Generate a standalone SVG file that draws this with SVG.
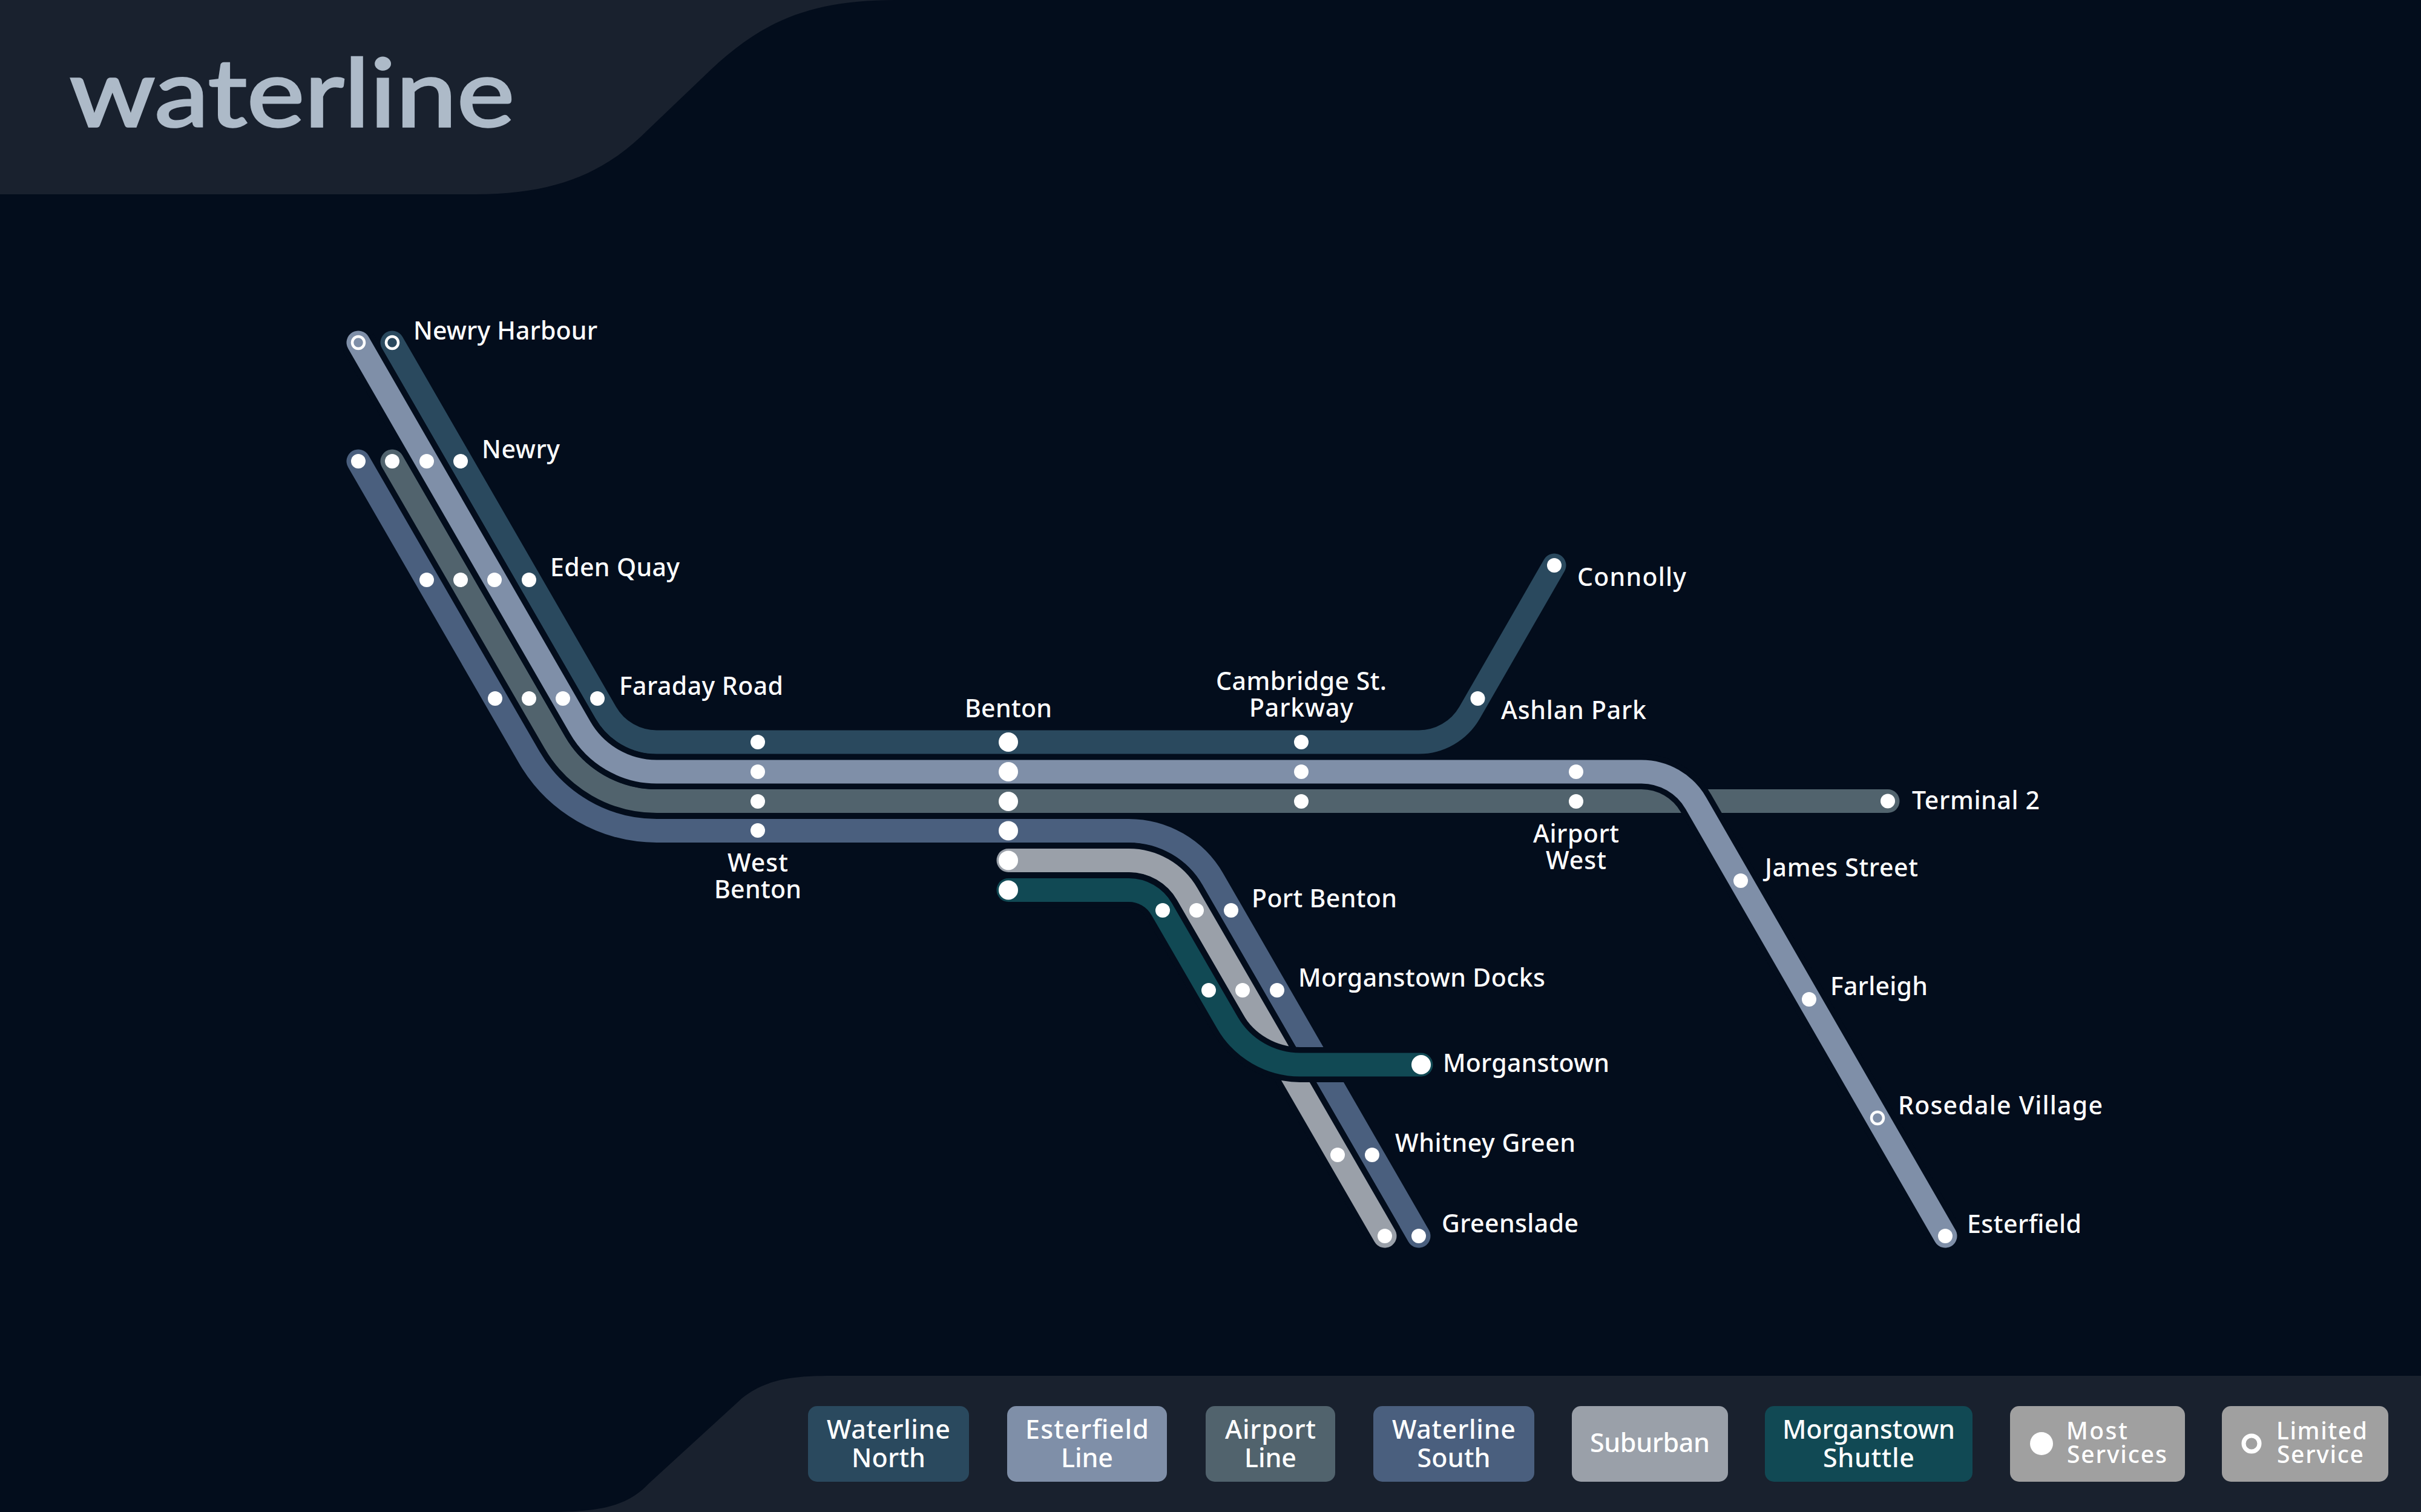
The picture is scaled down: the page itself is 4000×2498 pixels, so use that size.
<svg xmlns="http://www.w3.org/2000/svg" width="4000" height="2498" viewBox="0 0 4000 2498">
<style>
.line{fill:none;stroke-width:39;stroke-linecap:round;stroke-linejoin:round}
.case{fill:none;stroke:#030d1c;stroke-width:58}
.d{fill:#fff}
.r{fill:none;stroke:#fff;stroke-width:4.5}
text{font-family:"Noto Sans","Open Sans",sans-serif;fill:#fff;font-weight:500}
.l{font-size:41px}
.m{text-anchor:middle}
.k{font-size:43px;text-anchor:middle}
.s{font-size:39px}
.panel{fill:#19212e}
</style>
<defs>
<path id="p-north" d="M648 566L1001 1177.5A97 97 0 0 0 1085 1226H2344A97 97 0 0 0 2428 1177.5L2568 934"/>
<path id="p-airport" d="M648 762L916.5 1226.3A194.6 194.6 0 0 0 1085 1323.6H3119"/>
<path id="p-esterfield" d="M592 566L958.6 1202A146 146 0 0 0 1085 1275H2712A104 104 0 0 1 2802 1327L3214 2042"/>
<path id="p-south" d="M592 762L874.2 1250.7A243.4 243.4 0 0 0 1085 1372.4H1865A160.6 160.6 0 0 1 2004 1452.7L2344 2042"/>
<path id="p-suburban" d="M1666 1421.4H1865A111.6 111.6 0 0 1 1961.6 1477.2L2288 2042"/>
<path id="p-shuttle" d="M1666 1470.4H1865A62.6 62.6 0 0 1 1919.2 1501.7L2028 1689.7A139 139 0 0 0 2148 1759H2348"/>
</defs>
<rect width="4000" height="2498" fill="#030d1c"/>
<path class="panel" d="M0 0H1480C1330 0 1250 40 1160 129L1071 214C1000 285 920 321 785 321H0Z"/>
<text x="115" y="209" font-size="156" textLength="735" lengthAdjust="spacingAndGlyphs" style="font-family:Lato,'Open Sans',sans-serif;fill:#adbac8;stroke:#adbac8;stroke-width:3.5;font-weight:400">waterline</text>
<path class="panel" d="M910 2498C1000 2498 1040 2485 1073 2450L1226 2310C1270 2275 1320 2273 1380 2273H4000V2498Z"/>
<g id="connectors">
<use href="#p-north" class="line" stroke="#2a495e"/>
<use href="#p-airport" class="line" stroke="#51636d"/>
<use href="#p-esterfield" class="case"/>
<use href="#p-esterfield" class="line" stroke="#7f8fa8"/>
<use href="#p-south" class="line" stroke="#4a5f7e"/>
<use href="#p-suburban" class="case"/>
<use href="#p-suburban" class="line" stroke="#9aa0a9"/>
<use href="#p-shuttle" class="case"/>
<use href="#p-shuttle" class="line" stroke="#114954"/>
</g>
<g id="newry-harbour"><circle class="r" cx="592" cy="566" r="10"/><circle class="r" cx="648" cy="566" r="10"/><text class="l" x="683" y="561" textLength="304">Newry Harbour</text></g>
<g id="newry"><circle class="d" cx="592" cy="762" r="12"/><circle class="d" cx="648" cy="762" r="12"/><circle class="d" cx="705" cy="762" r="12"/><circle class="d" cx="761" cy="762" r="12"/><text class="l" x="796" y="757" textLength="129">Newry</text></g>
<g id="eden-quay"><circle class="d" cx="705" cy="958" r="12"/><circle class="d" cx="761" cy="958" r="12"/><circle class="d" cx="817" cy="958" r="12"/><circle class="d" cx="874" cy="958" r="12"/><text class="l" x="909" y="952" textLength="214">Eden Quay</text></g>
<g id="faraday-road"><circle class="d" cx="818" cy="1154" r="12"/><circle class="d" cx="874" cy="1154" r="12"/><circle class="d" cx="930" cy="1154" r="12"/><circle class="d" cx="987" cy="1154" r="12"/><text class="l" x="1023" y="1148" textLength="271">Faraday Road</text></g>
<g id="west-benton"><circle class="d" cx="1252" cy="1226" r="12"/><circle class="d" cx="1252" cy="1275" r="12"/><circle class="d" cx="1252" cy="1324" r="12"/><circle class="d" cx="1252" cy="1372" r="12"/><text class="l m" x="1252" y="1440" textLength="100">West</text><text class="l m" x="1252" y="1484" textLength="144">Benton</text></g>
<g id="benton"><circle class="d" cx="1666" cy="1226" r="16"/><circle class="d" cx="1666" cy="1275" r="16"/><circle class="d" cx="1666" cy="1324" r="16"/><circle class="d" cx="1666" cy="1372.4" r="16"/><circle class="d" cx="1666" cy="1421.4" r="16"/><circle class="d" cx="1666" cy="1470.4" r="16"/><text class="l m" x="1666" y="1185" textLength="144">Benton</text></g>
<g id="cambridge-st-parkway"><circle class="d" cx="2150" cy="1226" r="12"/><circle class="d" cx="2150" cy="1275" r="12"/><circle class="d" cx="2150" cy="1324" r="12"/><text class="l m" x="2150" y="1140" textLength="282">Cambridge St.</text><text class="l m" x="2150" y="1184" textLength="172">Parkway</text></g>
<g id="airport-west"><circle class="d" cx="2604" cy="1275" r="12"/><circle class="d" cx="2604" cy="1324" r="12"/><text class="l m" x="2604" y="1392" textLength="142">Airport</text><text class="l m" x="2604" y="1436" textLength="100">West</text></g>
<g id="ashlan-park"><circle class="d" cx="2441.5" cy="1154" r="12"/><text class="l" x="2480" y="1188" textLength="240">Ashlan Park</text></g>
<g id="connolly"><circle class="d" cx="2568" cy="934" r="12"/><text class="l" x="2606" y="968" textLength="180">Connolly</text></g>
<g id="terminal-2"><circle class="d" cx="3119" cy="1323.6" r="12"/><text class="l" x="3159" y="1337" textLength="211">Terminal 2</text></g>
<g id="james-street"><circle class="d" cx="2876" cy="1455" r="12"/><text class="l" x="2916" y="1448" textLength="253">James Street</text></g>
<g id="farleigh"><circle class="d" cx="2989" cy="1651" r="12"/><text class="l" x="3024" y="1644" textLength="161">Farleigh</text></g>
<g id="rosedale-village"><circle class="r" cx="3102" cy="1847" r="10"/><text class="l" x="3136" y="1841" textLength="338">Rosedale Village</text></g>
<g id="esterfield"><circle class="d" cx="3214" cy="2042" r="12"/><text class="l" x="3250" y="2037" textLength="189">Esterfield</text></g>
<g id="port-benton"><circle class="d" cx="1921" cy="1504" r="12"/><circle class="d" cx="1977" cy="1504" r="12"/><circle class="d" cx="2034" cy="1504" r="12"/><text class="l" x="2068" y="1499" textLength="240">Port Benton</text></g>
<g id="morganstown-docks"><circle class="d" cx="1997" cy="1636" r="12"/><circle class="d" cx="2053" cy="1636" r="12"/><circle class="d" cx="2110" cy="1636" r="12"/><text class="l" x="2145" y="1630" textLength="408">Morganstown Docks</text></g>
<g id="morganstown"><circle class="d" cx="2348" cy="1759" r="16"/><text class="l" x="2384" y="1771" textLength="275">Morganstown</text></g>
<g id="whitney-green"><circle class="d" cx="2210" cy="1908" r="12"/><circle class="d" cx="2267" cy="1908" r="12"/><text class="l" x="2305" y="1903" textLength="298">Whitney Green</text></g>
<g id="greenslade"><circle class="d" cx="2288" cy="2042" r="12"/><circle class="d" cx="2344" cy="2042" r="12"/><text class="l" x="2382" y="2036" textLength="226">Greenslade</text></g>
<g id="legend">
<g id="key-north"><rect x="1335" y="2323" width="266" height="125" rx="15" fill="#2a495e"/><text class="k" x="1468" y="2377" textLength="204">Waterline</text><text class="k" x="1468" y="2424" textLength="122">North</text></g>
<g id="key-esterfield"><rect x="1664" y="2323" width="264" height="125" rx="15" fill="#7f8fa8"/><text class="k" x="1796" y="2377" textLength="204">Esterfield</text><text class="k" x="1796" y="2424" textLength="86">Line</text></g>
<g id="key-airport"><rect x="1992" y="2323" width="214" height="125" rx="15" fill="#51636d"/><text class="k" x="2099" y="2377" textLength="150">Airport</text><text class="k" x="2099" y="2424" textLength="86">Line</text></g>
<g id="key-south"><rect x="2269" y="2323" width="266" height="125" rx="15" fill="#4a5f7e"/><text class="k" x="2402" y="2377" textLength="204">Waterline</text><text class="k" x="2402" y="2424" textLength="121">South</text></g>
<g id="key-suburban"><rect x="2597" y="2323" width="258" height="125" rx="15" fill="#9aa0a9"/><text class="k" x="2726" y="2399" textLength="198">Suburban</text></g>
<g id="key-shuttle"><rect x="2916" y="2323" width="343" height="125" rx="15" fill="#114954"/><text class="k" x="3087.5" y="2377" textLength="285">Morganstown</text><text class="k" x="3087.5" y="2424" textLength="151">Shuttle</text></g>
<g id="key-most"><rect x="3321" y="2323" width="289" height="125" rx="15" fill="#a0a0a0"/><circle class="d" cx="3373" cy="2385" r="19"/><text class="s" x="3414" y="2378" textLength="101">Most</text><text class="s" x="3415" y="2417" textLength="165">Services</text></g>
<g id="key-limited"><rect x="3671" y="2323" width="275" height="125" rx="15" fill="#a0a0a0"/><circle cx="3720" cy="2385" r="13" fill="none" stroke="#fff" stroke-width="7"/><text class="s" x="3761" y="2378" textLength="150">Limited</text><text class="s" x="3762" y="2417" textLength="143">Service</text></g>
</g>
</svg>
